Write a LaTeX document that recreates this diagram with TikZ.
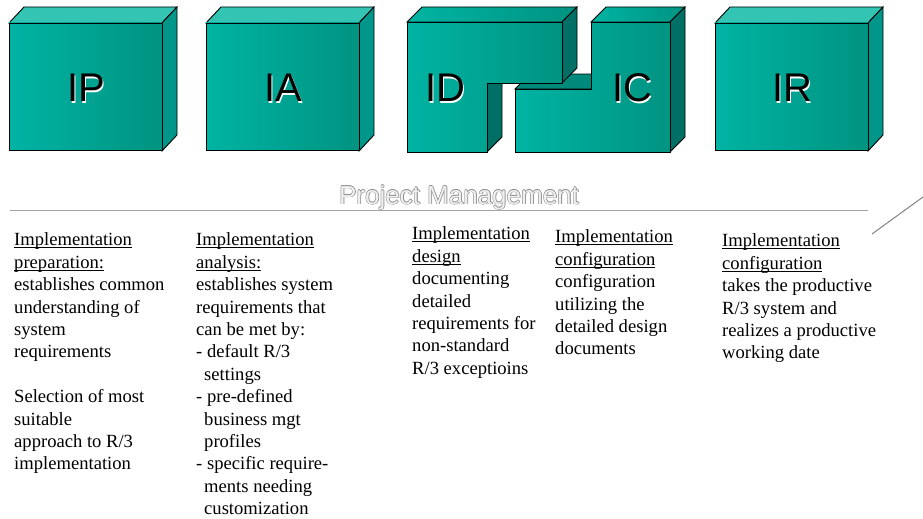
\documentclass[tikz,border=0pt]{standalone}
\usepackage{fontspec}
\setmainfont{Liberation Serif}
\newfontfamily\boxfont{Liberation Sans}
\usepackage{tikz}

\definecolor{tealtop}{HTML}{33C4B4}
\definecolor{tealleft}{HTML}{00B4A3}
\definecolor{tealright}{HTML}{009381}
\definecolor{tealside}{HTML}{00978A}
\definecolor{tealdark}{HTML}{006F65}
\definecolor{tealmid}{HTML}{008A7B}
\definecolor{rulegray}{HTML}{A3A3A3}
\definecolor{pmgray}{HTML}{8A8A8A}

\newcommand\ul[1]{\underline{\smash{#1}}}

\begin{document}
\begin{tikzpicture}[x=1pt, y=-1pt,
    front/.style={draw=black, line width=0.9pt, left color=tealleft, right color=tealright},
    topface/.style={draw=black, line width=0.9pt, fill=tealtop},
    sideface/.style={draw=black, line width=0.9pt, fill=tealside},
    darkside/.style={draw=black, line width=0.9pt, fill=tealdark},
    boxlabel/.style={font=\boxfont\fontsize{40}{40}\selectfont, inner sep=0pt},
    pmtext/.style={anchor=base, inner sep=0pt, font=\boxfont\fontsize{26}{26}\selectfont},
    coltext/.style={anchor=north west, inner sep=0pt, align=left, font=\fontsize{18.6}{22.4}\selectfont}]
    \useasboundingbox (0,0) rectangle (923,519);

    % plain boxes
    \foreach \name/\x in {IP/9, IA/206, IR/715} {
        \draw[topface] (\x,23) -- ++(15,-16) -- ++(153,0) -- ++(-15,16) -- cycle;
        \draw[sideface] (\x+153,23) -- ++(15,-16) -- ++(0,128) -- ++(-15,16) -- cycle;
        \draw[front] (\x,23) rectangle ++(153,127);
        \node[boxlabel, text=white] (\name-s) at (\x+78.5,89.5) {\name};
        \node[boxlabel] (\name) at (\x+77,88) {\name};
    }

    % IC block
    \draw[front] (591,22) -- (606,7) -- (685,7) -- (670,22) -- cycle;
    \draw[darkside, fill=tealmid] (515,89) -- (530,74) -- (606,74) -- (591,89) -- cycle;
    \draw[darkside] (670,22) -- (685,7) -- (685,137) -- (670,152) -- cycle;
    \draw[front] (515,89) -- (591,89) -- (591,22) -- (670,22) -- (670,152) -- (515,152) -- cycle;

    % ID block
    \draw[front] (407,22) -- (422,7) -- (577,7) -- (562,22) -- cycle;
    \draw[darkside] (487,83) -- (502,68) -- (502,137) -- (487,152) -- cycle;
    \draw[darkside] (562,22) -- (577,7) -- (577,68) -- (562,83) -- cycle;
    \draw[front] (407,22) -- (562,22) -- (562,83) -- (487,83) -- (487,152) -- (407,152) -- cycle;

    \foreach \name/\x in {ID/445, IC/632} {
        \node[boxlabel, text=white] (\name-s) at (\x+1.5,89.5) {\name};
        \node[boxlabel] (\name) at (\x,88) {\name};
    }

    % project management
    \foreach \dx/\dy [count=\k] in {0.8/0.8, -0.5/0, 0/-0.5, 0.5/0, 0/0.5} {
        \node[pmtext, text=pmgray] (pm-\k) at (459+\dx,204+\dy) {Project Management};
    }
    \node[pmtext, text=white!94!black] (pm) at (459,204) {Project Management};
    \coordinate (ruleL) at (10,210);
    \coordinate (ruleR) at (868,210);
    \draw[rulegray, line width=1pt] (ruleL) -- (ruleR);
    \coordinate (diagA) at (872,234);
    \coordinate (diagB) at (923,197);
    \draw[rulegray!80!black, line width=1pt] (diagA) -- (diagB);

    % phase texts
    \node[coltext] (tP) at (14,245.7) {\ul{Implementation}\\ \ul{preparation:}\\ establishes common\\ understanding of\\ system\\ requirements\\[22.4pt] Selection of most\\ suitable\\ approach to R/3\\ implementation};
    \node[coltext] (tA) at (196,245.7) {\ul{Implementation}\\ \ul{analysis:}\\ establishes system\\ requirements that\\ can be met by:\\ - default R/3\\ \hspace*{8pt}settings\\ - pre-defined\\ \hspace*{8pt}business mgt\\ \hspace*{8pt}profiles\\ - specific require-\\ \hspace*{8pt}ments needing\\ \hspace*{8pt}customization};
    \node[coltext] (tD) at (412,239.7) {\ul{Implementation}\\ \ul{design}\\ documenting\\ detailed\\ requirements for\\ non-standard\\ R/3 exceptioins};
    \node[coltext] (tC) at (555,242.7) {\ul{Implementation}\\ \ul{configuration}\\ configuration\\ utilizing the\\ detailed design\\ documents};
    \node[coltext] (tR) at (722,246.7) {\ul{Implementation}\\ \ul{configuration}\\ takes the productive\\ R/3 system and\\ realizes a productive\\ working date};
\end{tikzpicture}
\end{document}
